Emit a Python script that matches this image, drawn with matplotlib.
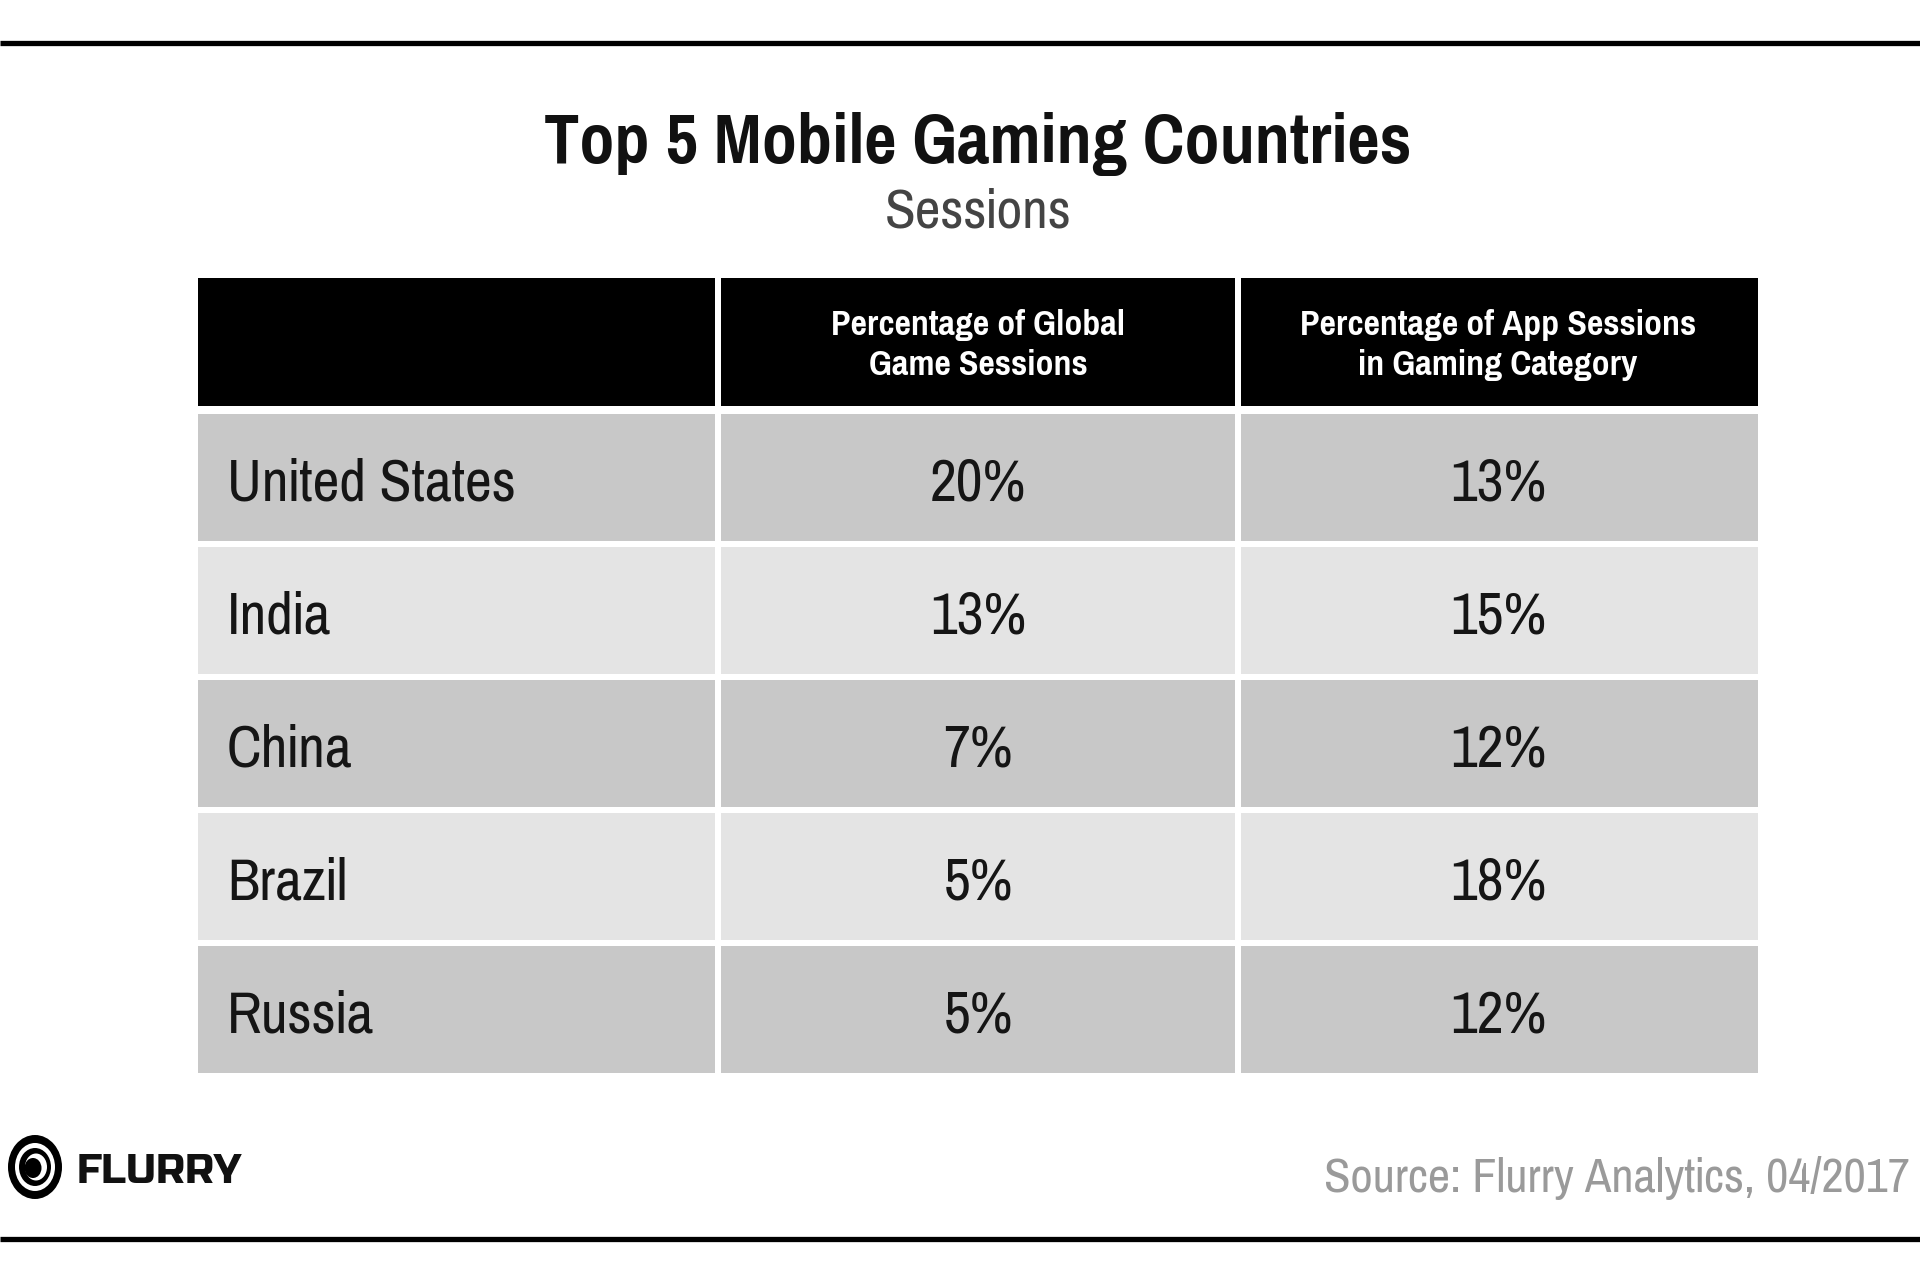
import matplotlib
matplotlib.use('Agg')
import matplotlib.pyplot as plt
from matplotlib import font_manager
from matplotlib.patches import Rectangle, Ellipse

# data
countries = ['United States', 'India', 'China', 'Brazil', 'Russia']
global_share = [20, 13, 7, 5, 5]
gaming_share = [13, 15, 12, 18, 12]
col_headers = ['', 'Percentage of Global\nGame Sessions',
               'Percentage of App Sessions\nin Gaming Category']

title = 'Top 5 Mobile Gaming Countries'
subtitle = 'Sessions'
source = 'Source: Flurry Analytics, 04/2017'


def first_font(cands):
    names = {f.name for f in font_manager.fontManager.ttflist}
    for c in cands:
        if c in names:
            return c
    return 'DejaVu Sans'


NARROW = first_font(['Pragati Narrow', 'Roboto Condensed', 'Archivo Narrow',
                     'PT Sans Narrow', 'Liberation Sans'])
LOGO = first_font(['Russo One', 'Audiowide', 'DejaVu Sans'])
FAM = [NARROW, 'DejaVu Sans']

W, H = 1920, 1280
fig = plt.figure(figsize=(19.2, 12.8), dpi=100)
ax = fig.add_axes([0, 0, 1, 1])
ax.set_xlim(0, W)
ax.set_ylim(H, 0)
ax.axis('off')

# frame lines top and bottom
ax.plot([0, W], [43, 43], color='black', lw=3.8, solid_capstyle='butt')
ax.plot([0, W], [1239, 1239], color='black', lw=3.8, solid_capstyle='butt')

# table layout
col_edges = [198, 718, 1238, 1758]
gap = 3
head_top, head_bot = 278, 406
row_top0, row_h, row_gap = 414, 127, 6
dark, light = '#c8c8c8', '#e4e4e4'

ax.text(978, 163, title, ha='center', va='baseline', fontsize=55,
        fontweight='bold', family=FAM, color='#111111')
ax.text(978, 228, subtitle, ha='center', va='baseline', fontsize=44,
        family=FAM, color='#444444')

# header
for j in range(3):
    x0 = col_edges[j] + (gap if j > 0 else 0)
    x1 = col_edges[j + 1] - (gap if j < 2 else 0)
    ax.add_patch(Rectangle((x0, head_top), x1 - x0, head_bot - head_top,
                           facecolor='black', edgecolor='none'))
    if col_headers[j]:
        ax.text((col_edges[j] + col_edges[j + 1]) / 2, 345, col_headers[j],
                ha='center', va='center', fontsize=28, fontweight='bold',
                family=FAM, color='white', linespacing=1.32)

# body rows
for i, name in enumerate(countries):
    y0 = row_top0 + i * (row_h + row_gap)
    fc = dark if i % 2 == 0 else light
    cells = [name, f'{global_share[i]}%', f'{gaming_share[i]}%']
    for j in range(3):
        x0 = col_edges[j] + (gap if j > 0 else 0)
        x1 = col_edges[j + 1] - (gap if j < 2 else 0)
        ax.add_patch(Rectangle((x0, y0), x1 - x0, row_h,
                               facecolor=fc, edgecolor='none'))
        base = y0 + row_h / 2 + 23
        if j == 0:
            ax.text(col_edges[0] + 29, base, cells[j], ha='left', va='baseline',
                    fontsize=46, family=FAM, color='#151515')
        else:
            ax.text((col_edges[j] + col_edges[j + 1]) / 2, base, cells[j],
                    ha='center', va='baseline', fontsize=46, family=FAM,
                    color='#151515')

# flurry logo
cx, cy = 35, 1167
ax.add_patch(Ellipse((cx, cy), 54, 64, facecolor='black', edgecolor='none'))
ax.add_patch(Ellipse((cx, cy), 40, 48, facecolor='white', edgecolor='none'))
ax.add_patch(Ellipse((cx, cy), 32, 38, facecolor='black', edgecolor='none'))
ax.add_patch(Ellipse((cx + 1, cy), 22, 27, facecolor='white', edgecolor='none'))
ax.add_patch(Ellipse((cx - 2, cy + 1), 17, 20, facecolor='black', edgecolor='none'))
ax.text(77, 1183, 'FLURRY', ha='left', va='baseline', fontsize=29,
        family=[LOGO, 'DejaVu Sans'], fontweight='heavy', color='#111111')

ax.text(1910, 1192, source, ha='right', va='baseline', fontsize=38,
        family=FAM, color='#9a9a9a')

fig.savefig('out.png', dpi=100, facecolor='white')
